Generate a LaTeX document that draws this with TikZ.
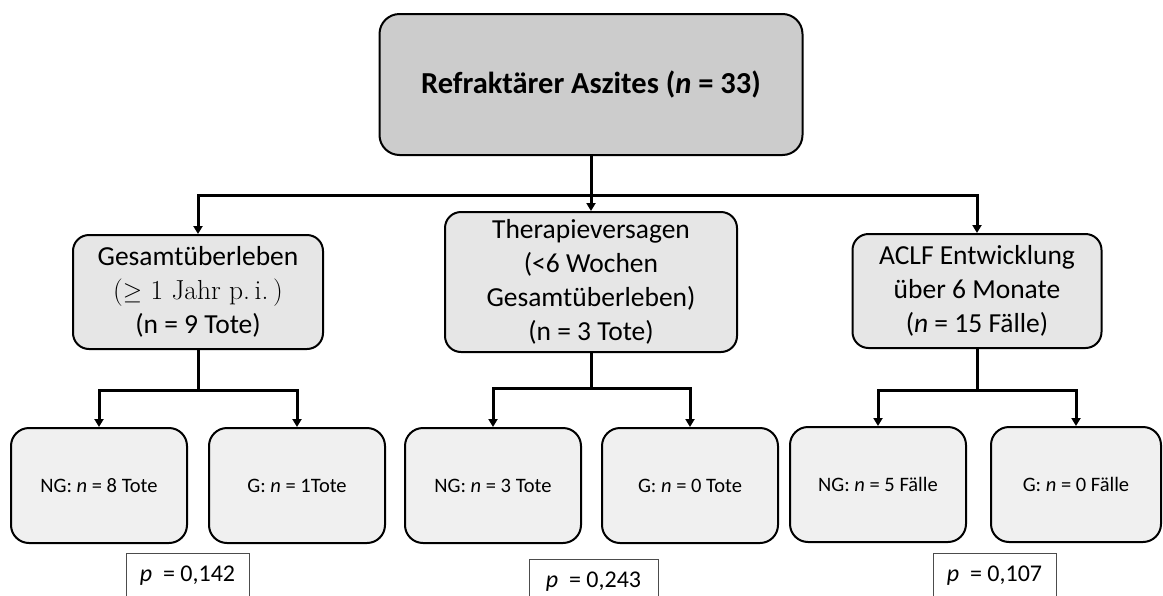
\documentclass[tikz,border=0pt]{standalone}
\usepackage{fontspec}
\setmainfont{Carlito}
\newfontfamily\lmrfont{Latin Modern Roman}
\usetikzlibrary{arrows.meta}
\definecolor{topfill}{HTML}{CCCCCC}
\definecolor{midfill}{HTML}{E6E6E6}
\definecolor{lowfill}{HTML}{F0F0F0}
\begin{document}
\begin{tikzpicture}[x=1pt,y=-1pt,
  topbox/.style={draw=black,line width=2pt,fill=topfill,rounded corners=20pt,minimum width=423pt,minimum height=141pt,inner sep=0pt,font=\fontsize{30.5}{36}\selectfont\bfseries},
  midbox/.style={draw=black,line width=2pt,fill=midfill,rounded corners=16pt,inner sep=0pt,align=center,font=\fontsize{27.5}{34}\selectfont},
  lowbox/.style={draw=black,line width=2pt,fill=lowfill,rounded corners=18pt,minimum width=176pt,minimum height=115pt,inner sep=0pt,font=\fontsize{20.5}{24}\selectfont},
  pbox/.style={draw=black!70,line width=1pt,fill=white,minimum height=44pt,inner sep=0pt,anchor=north,font=\fontsize{24}{28}\selectfont},
  conn/.style={line width=3pt},
  arr/.style={line width=3pt,-{Triangle[width=9pt,length=8pt]}}
]
\useasboundingbox (0,0) rectangle (1163,595);
\clip (0,0) rectangle (1163,595);

\node[topbox] (top) at (591,84.5) {Refraktärer Aszites (\textit{n} = 33)};

\node[midbox,minimum width=250pt,minimum height=114pt] (g1) at (198,292)
  {Gesamtüberleben\\{\lmrfont($\geq$ 1 Jahr p.\,i.\,)}\\(n = 9 Tote)};
\node[midbox,minimum width=292pt,minimum height=140pt] (g2) at (591,282)
  {Therapieversagen\\(<6 Wochen\\Gesamtüberleben)\\(n = 3 Tote)};
\node[midbox,minimum width=249pt,minimum height=114pt] (g3) at (977,291)
  {ACLF Entwicklung\\über 6 Monate\\(\textit{n} = 15 Fälle)};

\node[lowbox] (n1) at (99,485.5) {NG: \textit{n} = 8 Tote};
\node[lowbox] (m1) at (297,485.5) {G: \textit{n} = 1Tote};
\node[lowbox] (n2) at (493,485.5) {NG: \textit{n} = 3 Tote};
\node[lowbox] (m2) at (690,485.5) {G: \textit{n} = 0 Tote};
\node[lowbox] (n3) at (878,484.5) {NG: \textit{n} = 5 Fälle};
\node[lowbox,minimum width=170pt] (m3) at (1076,484.5) {G: \textit{n} = 0 Fälle};

\node[pbox,minimum width=123pt] (p1) at (187.5,553) {\textit{p}\ \ = 0,142};
\node[pbox,minimum width=129pt] (p2) at (593.5,559) {\textit{p}\ \ = 0,243};
\node[pbox,minimum width=123pt] (p3) at (994.5,553) {\textit{p}\ \ = 0,107};

\coordinate (h0) at (591,195);
\draw[conn] (top.south) -- (h0);
\draw[arr] (h0) -| (g1.north);
\draw[arr] (h0) -- (g2.north);
\draw[arr] (h0) -| (g3.north);

\coordinate (h1) at (198,390);
\draw[conn] (g1.south) -- (h1);
\draw[arr] (h1) -| (n1.north);
\draw[arr] (h1) -| (m1.north);

\coordinate (h2) at (591,388);
\draw[conn] (g2.south) -- (h2);
\draw[arr] (h2) -| (n2.north);
\draw[arr] (h2) -| (m2.north);

\coordinate (h3) at (977,390);
\draw[conn] (g3.south) -- (h3);
\draw[arr] (h3) -| (n3.north);
\draw[arr] (h3) -| (m3.north);
\end{tikzpicture}
\end{document}
